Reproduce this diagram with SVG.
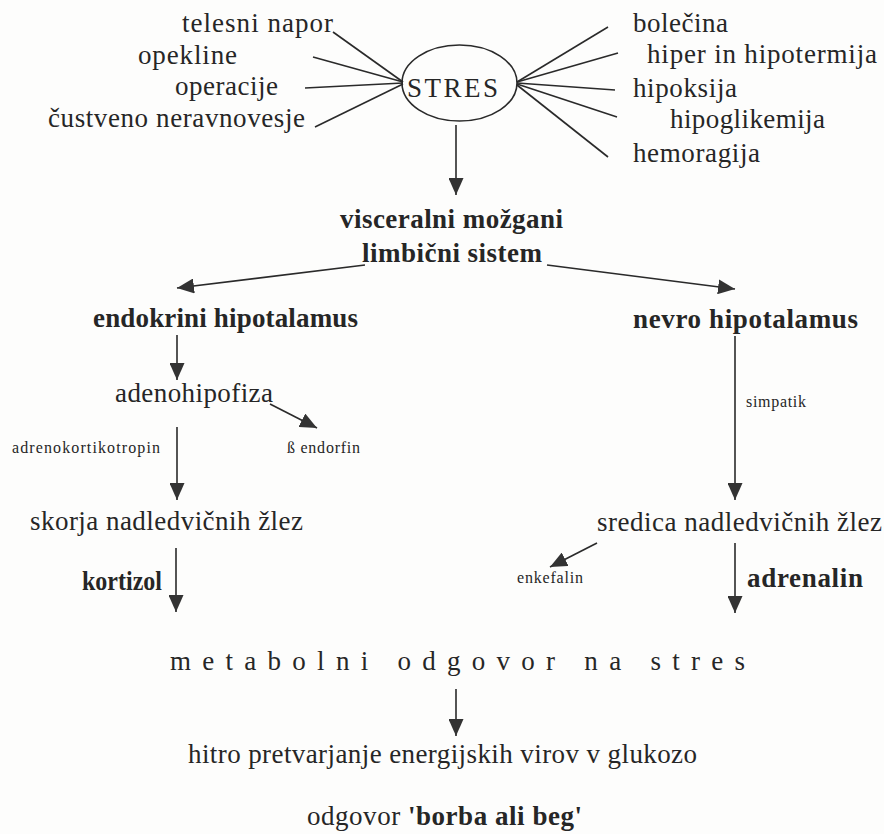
<svg xmlns="http://www.w3.org/2000/svg" width="884" height="834" viewBox="0 0 884 834" font-family="'Liberation Serif', 'Times New Roman', serif">
<defs>
<style>
text{font-family:"Liberation Serif","Times New Roman",serif;fill:#262626;}
.t{font-size:27px;}
.b{font-size:27px;font-weight:bold;}
.s{font-size:16px;}
.ln{stroke:#2a2a2a;stroke-width:1.6;fill:none;}
.ar{stroke:#2a2a2a;stroke-width:1.6;fill:none;marker-end:url(#ah);}
</style>
<marker id="ah" markerUnits="userSpaceOnUse" markerWidth="17" markerHeight="15" viewBox="0 0 17 15" refX="17" refY="7.5" orient="auto">
<path d="M0,0 L17,7.5 L0,15 Z" fill="#333"/>
</marker>
</defs>
<rect width="884" height="834" fill="#fdfdfc"/>
<g id="connectors">
<line class="ln" x1="333" y1="32" x2="403" y2="82"/>
<line class="ln" x1="313" y1="57" x2="403" y2="82"/>
<line class="ln" x1="305" y1="88" x2="403" y2="83"/>
<line class="ln" x1="315" y1="127" x2="403" y2="84"/>
<line class="ln" x1="517" y1="82" x2="608" y2="27"/>
<line class="ln" x1="517" y1="82" x2="618" y2="53"/>
<line class="ln" x1="517" y1="83" x2="615" y2="90"/>
<line class="ln" x1="517" y1="84" x2="617" y2="117"/>
<line class="ln" x1="517" y1="85" x2="608" y2="157"/>
<line class="ar" x1="456" y1="125" x2="456" y2="195"/>
<line class="ar" x1="365" y1="265" x2="177" y2="288"/>
<line class="ar" x1="547" y1="265" x2="735" y2="289"/>
<line class="ar" x1="177" y1="335" x2="177" y2="380"/>
<line class="ar" x1="270" y1="404" x2="317" y2="428"/>
<line class="ar" x1="177" y1="427" x2="177" y2="500"/>
<line class="ar" x1="176" y1="548" x2="176" y2="612"/>
<line class="ar" x1="735" y1="336" x2="735" y2="500"/>
<line class="ar" x1="597" y1="543" x2="550" y2="567"/>
<line class="ar" x1="735" y1="543" x2="735" y2="613"/>
<line class="ar" x1="456" y1="689" x2="456" y2="736"/>
</g>
<g id="causes-left">
<text class="t" x="182" y="32" textLength="151">telesni napor</text>
<text class="t" x="138" y="64" textLength="99">opekline</text>
<text class="t" x="175" y="95" textLength="103">operacije</text>
<text class="t" x="48" y="127" textLength="257">čustveno neravnovesje</text>
</g>
<g id="stres">
<ellipse cx="459.5" cy="83" rx="57.5" ry="38" fill="none" stroke="#2a2a2a" stroke-width="1.6"/>
<text class="t" x="407" y="97" font-size="29" textLength="91">STRES</text>
</g>
<g id="causes-right">
<text class="t" x="633" y="32" textLength="95">bolečina</text>
<text class="t" x="647" y="63" textLength="230">hiper in hipotermija</text>
<text class="t" x="633" y="97" textLength="104">hipoksija</text>
<text class="t" x="670" y="128" textLength="155">hipoglikemija</text>
<text class="t" x="633" y="162" textLength="127">hemoragija</text>
</g>
<g id="visceralni">
<text class="b" x="340" y="228" textLength="223">visceralni možgani</text>
<text class="b" x="362" y="262" textLength="180">limbični sistem</text>
</g>
<g id="endokrini">
<text class="b" x="93" y="327" textLength="265">endokrini hipotalamus</text>
</g>
<g id="nevro">
<text class="b" x="633" y="328" textLength="225">nevro hipotalamus</text>
</g>
<g id="adenohipofiza">
<text class="t" x="115" y="402" textLength="158">adenohipofiza</text>
</g>
<g id="labels-small">
<text class="s" x="12" y="453" textLength="148">adrenokortikotropin</text>
<text class="s" x="287" y="453" textLength="73">ß endorfin</text>
<text class="s" x="746" y="407" textLength="60">simpatik</text>
<text class="s" x="517" y="583" textLength="66">enkefalin</text>
</g>
<g id="skorja">
<text class="t" x="30" y="530" textLength="273">skorja nadledvičnih žlez</text>
</g>
<g id="sredica">
<text class="t" x="597" y="531" textLength="285">sredica nadledvičnih žlez</text>
</g>
<g id="kortizol"><text class="b" x="82" y="590" textLength="80" lengthAdjust="spacingAndGlyphs">kortizol</text></g>
<g id="adrenalin"><text class="b" x="747" y="587" textLength="116">adrenalin</text></g>
<g id="metabolni">
<text class="t" x="170" y="670" textLength="575">metabolni odgovor na stres</text>
</g>
<g id="hitro">
<text class="t" x="188" y="763" textLength="509">hitro pretvarjanje energijskih virov v glukozo</text>
</g>
<g id="odgovor">
<text class="t" x="307" y="825" textLength="275">odgovor <tspan font-weight="bold">'borba ali beg'</tspan></text>
</g>
</svg>
